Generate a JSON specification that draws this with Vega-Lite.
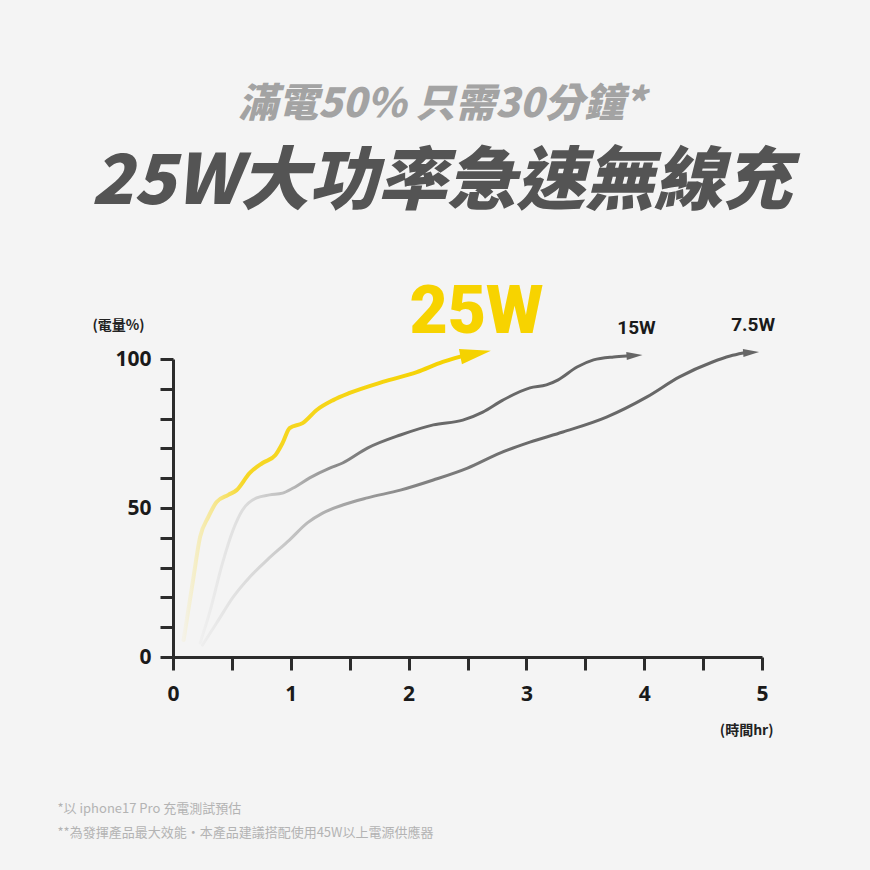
{
  "$schema": "https://vega.github.io/schema/vega-lite/v6.json",
  "autosize": "none",
  "width": 589,
  "height": 298,
  "padding": {"left": 173, "top": 359, "right": 108, "bottom": 213},
  "background": "#f4f4f4",
  "config": {
    "view": {"stroke": null},
    "font": "Noto Sans CJK TC"
  },
  "title": {
    "text": "滿電50% 只需30分鐘*",
    "subtitle": "25W大功率急速無線充",
    "anchor": "middle",
    "frame": "group",
    "offset": 62,
    "dx": -26,
    "font": "Noto Sans CJK TC",
    "fontSize": 40,
    "fontWeight": 900,
    "fontStyle": "italic",
    "color": "#a3a3a3",
    "subtitleFont": "Noto Sans CJK TC",
    "subtitleFontSize": 69,
    "subtitleFontWeight": 900,
    "subtitleFontStyle": "italic",
    "subtitleColor": "#545454",
    "subtitlePadding": 24
  },
  "data": {
    "values": [
      {"series": "25W", "t": 0.09, "pct": 5.7},
      {"series": "25W", "t": 0.17, "pct": 25.8},
      {"series": "25W", "t": 0.23, "pct": 40.3},
      {"series": "25W", "t": 0.30, "pct": 47.0},
      {"series": "25W", "t": 0.37, "pct": 52.0},
      {"series": "25W", "t": 0.47, "pct": 54.4},
      {"series": "25W", "t": 0.54, "pct": 56.0},
      {"series": "25W", "t": 0.65, "pct": 61.7},
      {"series": "25W", "t": 0.76, "pct": 65.1},
      {"series": "25W", "t": 0.87, "pct": 67.8},
      {"series": "25W", "t": 0.93, "pct": 71.8},
      {"series": "25W", "t": 0.99, "pct": 76.8},
      {"series": "25W", "t": 1.10, "pct": 78.5},
      {"series": "25W", "t": 1.22, "pct": 82.9},
      {"series": "25W", "t": 1.36, "pct": 86.2},
      {"series": "25W", "t": 1.50, "pct": 88.6},
      {"series": "25W", "t": 1.78, "pct": 92.3},
      {"series": "25W", "t": 2.07, "pct": 95.6},
      {"series": "25W", "t": 2.29, "pct": 99.0},
      {"series": "25W", "t": 2.44, "pct": 100.8},
      {"series": "15W", "t": 0.23, "pct": 4.7},
      {"series": "15W", "t": 0.31, "pct": 14.8},
      {"series": "15W", "t": 0.42, "pct": 31.5},
      {"series": "15W", "t": 0.51, "pct": 42.6},
      {"series": "15W", "t": 0.59, "pct": 49.3},
      {"series": "15W", "t": 0.71, "pct": 53.4},
      {"series": "15W", "t": 0.82, "pct": 54.4},
      {"series": "15W", "t": 0.93, "pct": 55.0},
      {"series": "15W", "t": 1.02, "pct": 56.7},
      {"series": "15W", "t": 1.16, "pct": 60.1},
      {"series": "15W", "t": 1.33, "pct": 63.4},
      {"series": "15W", "t": 1.44, "pct": 65.1},
      {"series": "15W", "t": 1.65, "pct": 70.1},
      {"series": "15W", "t": 1.93, "pct": 74.5},
      {"series": "15W", "t": 2.21, "pct": 77.9},
      {"series": "15W", "t": 2.46, "pct": 79.5},
      {"series": "15W", "t": 2.63, "pct": 82.2},
      {"series": "15W", "t": 2.80, "pct": 86.2},
      {"series": "15W", "t": 3.03, "pct": 90.3},
      {"series": "15W", "t": 3.17, "pct": 91.3},
      {"series": "15W", "t": 3.27, "pct": 93.0},
      {"series": "15W", "t": 3.43, "pct": 97.3},
      {"series": "15W", "t": 3.57, "pct": 99.7},
      {"series": "15W", "t": 3.74, "pct": 100.7},
      {"series": "15W", "t": 3.85, "pct": 101.0},
      {"series": "7.5W", "t": 0.25, "pct": 4.0},
      {"series": "7.5W", "t": 0.37, "pct": 11.4},
      {"series": "7.5W", "t": 0.51, "pct": 20.1},
      {"series": "7.5W", "t": 0.65, "pct": 26.8},
      {"series": "7.5W", "t": 0.80, "pct": 32.6},
      {"series": "7.5W", "t": 0.99, "pct": 39.3},
      {"series": "7.5W", "t": 1.14, "pct": 45.0},
      {"series": "7.5W", "t": 1.27, "pct": 48.3},
      {"series": "7.5W", "t": 1.44, "pct": 51.0},
      {"series": "7.5W", "t": 1.65, "pct": 53.4},
      {"series": "7.5W", "t": 1.93, "pct": 56.0},
      {"series": "7.5W", "t": 2.21, "pct": 59.4},
      {"series": "7.5W", "t": 2.50, "pct": 63.4},
      {"series": "7.5W", "t": 2.78, "pct": 68.5},
      {"series": "7.5W", "t": 3.03, "pct": 72.1},
      {"series": "7.5W", "t": 3.31, "pct": 75.5},
      {"series": "7.5W", "t": 3.68, "pct": 80.5},
      {"series": "7.5W", "t": 4.02, "pct": 87.2},
      {"series": "7.5W", "t": 4.30, "pct": 94.0},
      {"series": "7.5W", "t": 4.58, "pct": 99.0},
      {"series": "7.5W", "t": 4.73, "pct": 101.0},
      {"series": "7.5W", "t": 4.84, "pct": 102.0}
    ]
  },
  "encoding": {
    "x": {
      "field": "t",
      "type": "quantitative",
      "scale": {"domain": [0, 5], "nice": false, "zero": false},
      "axis": {
        "values": [0, 0.5, 1, 1.5, 2, 2.5, 3, 3.5, 4, 4.5, 5],
        "labelExpr": "datum.value % 1 === 0 ? format(datum.value, 'd') : ''",
        "labelOverlap": false,
        "labelFlush": false,
        "grid": false,
        "domainColor": "#2b2b2b",
        "domainWidth": 3,
        "tickColor": "#2b2b2b",
        "tickWidth": 3,
        "tickSize": 13,
        "labelFont": "Noto Sans",
        "labelFontSize": 21,
        "labelFontWeight": "bold",
        "labelColor": "#1a1a1a",
        "labelPadding": 13,
        "title": "(時間hr)",
        "titleFont": "Noto Sans CJK TC",
        "titleFontSize": 14,
        "titleFontWeight": "bold",
        "titleColor": "#222222",
        "titleAlign": "right",
        "titleBaseline": "middle",
        "titleX": 600,
        "titleY": 73
      }
    },
    "y": {
      "field": "pct",
      "type": "quantitative",
      "scale": {"domain": [0, 100], "nice": false},
      "axis": null
    }
  },
  "layer": [
    {
      "transform": [{"filter": "datum.series === '7.5W'"}],
      "mark": {
        "type": "line",
        "interpolate": "monotone",
        "strokeWidth": 3,
        "strokeCap": "round",
        "color": {
          "gradient": "linear",
          "x1": 0, "y1": 0, "x2": 1, "y2": 0,
          "stops": [
            {"offset": 0, "color": "#eeeeee"},
            {"offset": 0.1, "color": "#d8d8d8"},
            {"offset": 0.25, "color": "#a8a8a8"},
            {"offset": 0.4, "color": "#828282"},
            {"offset": 0.6, "color": "#6a6a6a"},
            {"offset": 1, "color": "#666666"}
          ]
        }
      },
      "encoding": {
        "y": {
          "field": "pct",
          "type": "quantitative",
          "scale": {"domain": [0, 100], "nice": false},
          "axis": {
            "orient": "left",
            "values": [0, 10, 20, 30, 40, 50, 60, 70, 80, 90, 100],
            "labelExpr": "datum.value % 50 === 0 ? datum.label : ''",
            "labelOverlap": false,
            "labelFlush": false,
            "grid": false,
            "domainColor": "#2b2b2b",
            "domainWidth": 3,
            "tickColor": "#2b2b2b",
            "tickWidth": 3,
            "tickSize": 13,
            "labelFont": "Noto Sans",
            "labelFontSize": 21,
            "labelFontWeight": "bold",
            "labelColor": "#1a1a1a",
            "labelPadding": 9,
            "title": "(電量%)",
            "titleFont": "Noto Sans CJK TC",
            "titleFontSize": 14,
            "titleFontWeight": "bold",
            "titleColor": "#222222",
            "titleAngle": 0,
            "titleAlign": "center",
            "titleBaseline": "middle",
            "titleX": -55,
            "titleY": -34
          }
        }
      }
    },
    {
      "transform": [{"filter": "datum.series === '15W'"}],
      "mark": {
        "type": "line",
        "interpolate": "monotone",
        "strokeWidth": 3,
        "strokeCap": "round",
        "color": {
          "gradient": "linear",
          "x1": 0, "y1": 0, "x2": 1, "y2": 0,
          "stops": [
            {"offset": 0, "color": "#f0f0f0"},
            {"offset": 0.1, "color": "#dddddd"},
            {"offset": 0.2, "color": "#bdbdbd"},
            {"offset": 0.32, "color": "#8a8a8a"},
            {"offset": 0.45, "color": "#6a6a6a"},
            {"offset": 1, "color": "#666666"}
          ]
        }
      }
    },
    {
      "transform": [{"filter": "datum.series === '25W'"}],
      "mark": {
        "type": "line",
        "interpolate": "monotone",
        "strokeWidth": 4,
        "strokeCap": "round",
        "color": {
          "gradient": "linear",
          "x1": 0, "y1": 0, "x2": 1, "y2": 0,
          "stops": [
            {"offset": 0, "color": "#f4f2e8"},
            {"offset": 0.12, "color": "#f6e68a"},
            {"offset": 0.22, "color": "#f6d726"},
            {"offset": 1, "color": "#f5d200"}
          ]
        }
      }
    },
    {
      "transform": [
        {"joinaggregate": [{"op": "max", "field": "t", "as": "tEnd"}], "groupby": ["series"]},
        {"filter": "datum.t === datum.tEnd && datum.series !== '25W'"}
      ],
      "mark": {
        "type": "point",
        "shape": "M2,0L0,-0.5L0,0.5Z",
        "filled": true,
        "opacity": 1,
        "size": 256,
        "angle": -4,
        "color": "#666666",
        "strokeWidth": 0
      }
    },
    {
      "transform": [
        {"joinaggregate": [{"op": "max", "field": "t", "as": "tEnd"}], "groupby": ["series"]},
        {"filter": "datum.t === datum.tEnd && datum.series === '25W'"}
      ],
      "mark": {
        "type": "point",
        "shape": "M2,0L0,-0.5L0,0.5Z",
        "filled": true,
        "opacity": 1,
        "size": 961,
        "angle": -11,
        "color": "#f5d200",
        "strokeWidth": 0
      }
    },
    {
      "transform": [
        {"joinaggregate": [{"op": "max", "field": "t", "as": "tEnd"}], "groupby": ["series"]},
        {"filter": "datum.t === datum.tEnd && datum.series === '25W'"}
      ],
      "mark": {
        "type": "text",
        "font": "Roboto",
        "fontSize": 66,
        "fontWeight": 900,
        "color": "#f7d300",
        "align": "center",
        "baseline": "alphabetic",
        "dx": 16,
        "dy": -24
      },
      "encoding": {
        "text": {"field": "series"}
      }
    },
    {
      "transform": [
        {"joinaggregate": [{"op": "max", "field": "t", "as": "tEnd"}], "groupby": ["series"]},
        {"filter": "datum.t === datum.tEnd && datum.series !== '25W'"}
      ],
      "mark": {
        "type": "text",
        "font": "Roboto",
        "fontSize": 19,
        "fontWeight": "bold",
        "color": "#1a1a1a",
        "align": "center",
        "baseline": "alphabetic",
        "dx": 10,
        "dy": -22
      },
      "encoding": {
        "y": {
          "field": "pct",
          "type": "quantitative",
          "scale": {"domain": [0, 100], "nice": false},
          "axis": {
            "orient": "right",
            "domain": false,
            "ticks": false,
            "labels": false,
            "grid": false,
            "title": [
              "*以 iphone17 Pro 充電測試預估",
              "**為發揮產品最大效能・本產品建議搭配使用45W以上電源供應器"
            ],
            "titleFont": "Noto Sans CJK TC",
            "titleFontSize": 13,
            "titleFontWeight": "normal",
            "titleColor": "#b3b3b3",
            "titleAngle": 0,
            "titleAlign": "left",
            "titleBaseline": "middle",
            "titleLineHeight": 24,
            "titleX": -705,
            "titleY": 449
          }
        },
        "text": {"field": "series"}
      }
    }
  ],
  "resolve": {"axis": {"y": "independent"}}
}
